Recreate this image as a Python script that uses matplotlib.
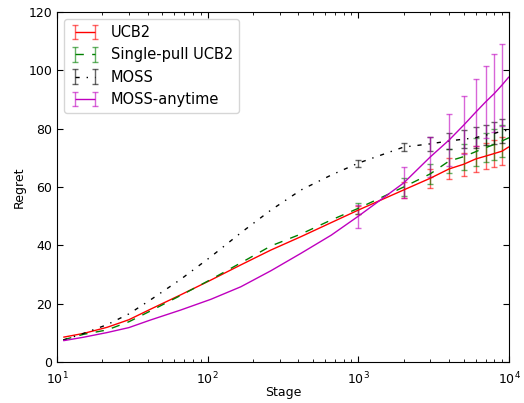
import matplotlib
matplotlib.use("Agg")
import matplotlib.pyplot as plt
import numpy as np

stage = [11, 15, 21.5, 30, 41.7, 66, 105, 166, 263, 417, 661,
         1000, 2000, 3000, 4000, 5000, 6000, 7000, 8000, 9000, 10000]

ucb2 = [8.5, 9.8, 11.9, 14.5, 18.1, 23.0, 28.1, 33.3, 38.4, 43.0, 47.8,
        52.1, 59.0, 63.0, 66.2, 67.8, 69.6, 70.6, 71.5, 72.3, 73.8]
single_pull = [7.6, 9.5, 11.0, 13.8, 17.5, 22.8, 28.3, 34.0, 39.8, 43.9, 48.7,
               52.7, 60.0, 64.5, 68.9, 70.4, 72.1, 73.5, 74.6, 75.8, 76.9]
moss = [7.5, 9.8, 12.8, 16.5, 21.3, 28.3, 36.1, 44.3, 52.1, 59.0, 64.1,
        68.2, 73.7, 74.8, 75.8, 76.4, 76.9, 77.8, 78.4, 79.2, 79.5]
moss_anytime = [7.3, 8.5, 10.1, 11.8, 14.4, 17.8, 21.5, 25.8, 31.3, 37.3, 43.5,
                50.0, 61.4, 70.3, 76.1, 81.2, 85.6, 89.2, 92.1, 95.0, 97.8]

# error bar half-widths at 1000, 2000, ..., 9000
ucb2_err = [1.5, 2.8, 3.2, 3.6, 4.0, 4.3, 4.5, 4.7, 4.9]
single_pull_err = [1.8, 3.0, 3.5, 4.2, 4.5, 4.8, 5.0, 5.2, 5.4]
moss_err = [1.2, 1.5, 2.3, 2.7, 3.1, 3.6, 3.5, 3.8, 4.0]
moss_anytime_err = [4.0, 5.3, 7.0, 8.8, 10.0, 11.4, 12.4, 13.4, 14.2]

labels = ['UCB2', 'Single-pull UCB2', 'MOSS', 'MOSS-anytime']

N_CURVE = 11  # points before the first error bar


def pad_err(err):
    # zero everywhere except the error-bar stages
    return [0.0] * N_CURVE + list(err) + [0.0]


fig = plt.figure(figsize=(5.24, 4.03), dpi=100)
ax = fig.add_axes([0.1088, 0.1017, 0.8626, 0.8685])

series = [
    (ucb2, ucb2_err, (1, 0, 0), (0, ())),
    (single_pull, single_pull_err, (0, 0.5, 0), (0, (6, 6))),
    (moss, moss_err, (0, 0, 0), (0, (3, 5, 1, 5))),
    (moss_anytime, moss_anytime_err, (0.75, 0, 0.75), (0, ())),
]

for (vals, err, color, ls), label in zip(series, labels):
    cont = ax.errorbar(stage, vals, yerr=pad_err(err),
                       errorevery=slice(N_CURVE, N_CURVE + len(err)),
                       color=color, linestyle=ls, linewidth=1, elinewidth=1,
                       capsize=2.5, capthick=1, label=label)
    for cap in cont[1]:
        cap.set_alpha(0.6)
    for bar in cont[2]:
        bar.set_alpha(0.6)

ax.set_xscale('log')
ax.set_xlim(10, 10000)
ax.set_ylim(0, 120)
ax.set_yticks(np.arange(0, 121, 20))
ax.set_xlabel('Stage', fontsize=9, labelpad=-1)
ax.set_ylabel('Regret', fontsize=9, labelpad=2)

ax.tick_params(which='both', direction='in', top=True, right=True, labelsize=9)
ax.tick_params(which='major', length=4.5)
ax.tick_params(which='minor', length=2.5)
ax.tick_params(axis='x', which='major', pad=6)

ax.legend(loc='upper left', fontsize=10.5, numpoints=2, handlelength=2.0)

fig.savefig('out.png', dpi=100)
